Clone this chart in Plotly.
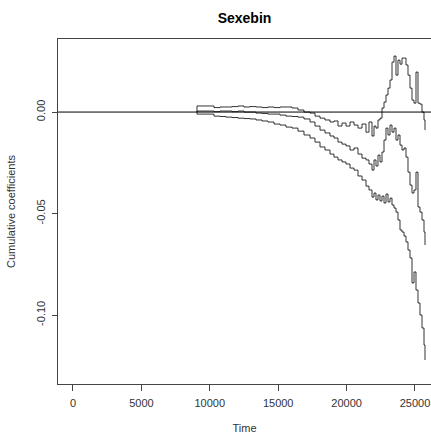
import plotly.graph_objects as go

title_text = "Sexebin"
x_label = "Time"
y_label = "Cumulative coefficients"

time = [9064, 9064, 10307, 10746, 11184, 11623, 12061, 12500, 12939, 13377, 13816,
        14254, 14693, 15132, 15570, 16009, 16447, 16886, 17325, 17690, 18056,
        18421, 18787, 19079, 19371, 19664, 19956, 20249, 20541, 20833, 21126,
        21418, 21637, 21857, 22003, 22149, 22295, 22442, 22588, 22734, 22880,
        23026, 23173, 23319, 23465, 23611, 23757, 23904, 24050, 24196, 24342,
        24488, 24635, 24781, 24927, 25073, 25219, 25365, 25512, 25658, 25731]

estimate = [0.0, 0.0005, 0.0002, 0.0005, 0.0005, 0.0002, 0.0005, 0.0, 0.0, -0.0005, -0.0007,
            -0.0010, -0.0010, -0.0015, -0.0020, -0.0022, -0.0025, -0.0034, -0.0049, -0.0069, -0.0089,
            -0.0103, -0.0118, -0.0128, -0.0148, -0.0158, -0.0167, -0.0187, -0.0177, -0.0207, -0.0227,
            -0.0236, -0.0256, -0.0286, -0.0236, -0.0266, -0.0212, -0.0246, -0.0197, -0.0138, -0.0079,
            -0.0113, -0.0064, -0.0099, -0.0079, -0.0138, -0.0113, -0.0163, -0.0187, -0.0177, -0.0222,
            -0.0296, -0.0360, -0.0399, -0.0384, -0.0296, -0.0468, -0.0493, -0.0532, -0.0591, -0.0655]

upper = [0.0, 0.0030, 0.0022, 0.0025, 0.0025, 0.0027, 0.0030, 0.0025, 0.0027, 0.0025, 0.0022,
         0.0025, 0.0022, 0.0025, 0.0025, 0.0020, 0.0010, 0.0, -0.0005, -0.0020, -0.0030,
         -0.0039, -0.0049, -0.0044, -0.0069, -0.0054, -0.0069, -0.0049, -0.0064, -0.0079, -0.0059,
         -0.0099, -0.0049, -0.0118, -0.0069, -0.0079, -0.0039, -0.0030, 0.0020, 0.0049, 0.0084,
         0.0118, 0.0158, 0.0246, 0.0276, 0.0182, 0.0256, 0.0236, 0.0266, 0.0266, 0.0232,
         0.0182, 0.0118, 0.0059, 0.0044, 0.0197, 0.0044, 0.0039, 0.0, -0.0039, -0.0089]

lower = [0.0, -0.0010, -0.0020, -0.0022, -0.0025, -0.0027, -0.0030, -0.0032, -0.0034, -0.0039, -0.0044,
         -0.0049, -0.0059, -0.0064, -0.0074, -0.0079, -0.0094, -0.0113, -0.0128, -0.0148, -0.0172,
         -0.0187, -0.0207, -0.0222, -0.0236, -0.0246, -0.0256, -0.0276, -0.0286, -0.0315, -0.0335,
         -0.0365, -0.0384, -0.0419, -0.0399, -0.0433, -0.0409, -0.0438, -0.0414, -0.0448, -0.0404,
         -0.0443, -0.0424, -0.0458, -0.0473, -0.0493, -0.0532, -0.0581, -0.0591, -0.0611, -0.0640,
         -0.0680, -0.0719, -0.0842, -0.0788, -0.0877, -0.0941, -0.1000, -0.1064, -0.1148, -0.1222]

x_ticks = [0, 5000, 10000, 15000, 20000, 25000]
x_ticktext = ["0", "5000", "10000", "15000", "20000", "25000"]
y_ticks = [0.0, -0.05, -0.10]
y_ticktext = ["0.00", "-0.05", "-0.10"]

fig = go.Figure()
for series in (upper, estimate, lower):
    fig.add_trace(go.Scatter(x=time, y=series, mode="lines",
                             line=dict(shape="hv", color="black", width=0.8),
                             showlegend=False, hoverinfo="skip"))

fig.add_hline(y=0, line=dict(color="black", width=1))

font_family = "Liberation Sans, Arial, sans-serif"
fig.update_layout(
    width=431, height=436,
    margin=dict(l=58, r=0, t=39, b=52),
    paper_bgcolor="white", plot_bgcolor="white",
    font=dict(family=font_family, size=11, color="#333333"),
    title=dict(text="<b>" + title_text + "</b>", x=0.5, xanchor="center",
               xref="paper", y=1 - 18 / 436, yanchor="middle", yref="container",
               font=dict(size=14, color="black")),
)
fig.update_xaxes(
    range=[-1096, 26170], tickvals=x_ticks, ticktext=x_ticktext,
    ticks="outside", ticklen=6, tickcolor="#444", showline=True, mirror=True,
    linecolor="#444", linewidth=1, showgrid=False, zeroline=False,
    title=dict(text=x_label, standoff=16, font=dict(size=11, color="#333333")),
    tickfont=dict(size=11, color="#333333"), ticklabelstandoff=3, automargin=False,
)
fig.update_yaxes(
    range=[-0.134, 0.036], tickvals=y_ticks, ticktext=y_ticktext, tickangle=-90,
    ticks="outside", ticklen=5, tickcolor="#444", showline=True, mirror=True,
    linecolor="#444", linewidth=1, showgrid=False, zeroline=False,
    title=dict(text=y_label, standoff=16, font=dict(size=11, color="#333333")),
    tickfont=dict(size=11, color="#333333"), ticklabelstandoff=3, automargin=False,
)

fig.write_html("out.html")
